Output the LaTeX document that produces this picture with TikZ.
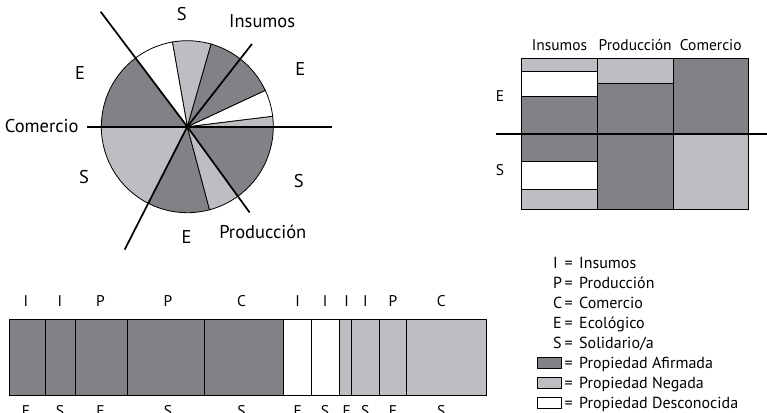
\documentclass[tikz,border=0pt]{standalone}
\usepackage{fontspec}
\setmainfont{PT Sans}
\begin{document}
\begin{tikzpicture}[x=1pt,y=1pt]
    %colores
    \definecolor{oscuro}{RGB}{128,130,134}
    \definecolor{claro}{RGB}{188,190,193}
    \tikzset{
        borde/.style={draw=black,line width=0.8pt},
        eje/.style={line width=1.7pt},
        etiq/.style={anchor=base,inner sep=0pt,font=\fontsize{18.5}{22}\selectfont},
        chica/.style={anchor=base,inner sep=0pt,font=\fontsize{15.5}{18}\selectfont},
        leyenda/.style={anchor=base west,inner sep=0pt,font=\fontsize{16}{19}\selectfont}
    }
    \useasboundingbox (0,0) rectangle (767,412);

    % Pastel, rebanadas
    \coordinate (c) at (187.3,285.3);
    \foreach \a/\b/\col in {0/7/claro, 7/25/white, 25/52/oscuro, 52/74/oscuro, 74/100/claro,
        100/127/white, 127/180/oscuro, 180/243/claro, 243/285/oscuro, 285/306/claro, 306/360/oscuro}
    \filldraw[fill=\col,borde] (c) -- ++(\a:86) arc (\a:\b:86) -- cycle;

    % Ejes del pastel
    \foreach \ang/\len/\nom in {0/145/ejeA, 52/105/ejeI, 127/144/ejeB, 180/100.6/ejeC, 243/138/ejeD, 306/106/ejeP}
    \coordinate (\nom) at ([shift={(\ang:\len)}]c);
    \foreach \nom in {ejeA,ejeI,ejeB,ejeC,ejeD,ejeP}
    \draw[eje] (c) -- (\nom);

    % Etiquetas del pastel
    \node[etiq] (sArr) at (181.7,391.3) {S};
    \node[etiq] (insumos) at (262.2,384.7) {Insumos};
    \node[etiq] (eDer) at (300.3,336) {E};
    \node[etiq] (eIzq) at (80,332.7) {E};
    \node[etiq] (comercio) at (41.7,279.3) {Comercio};
    \node[etiq] (sIzq) at (84,228) {S};
    \node[etiq] (sDer) at (298.8,224.7) {S};
    \node[etiq] (eAba) at (186.7,168) {E};
    \node[etiq] (produccion) at (262.8,173.7) {Producción};

    % Tabla arriba a la derecha
    \foreach \ya/\yb/\col in {340.3/353.7/claro, 315.3/340.3/white, 278.7/315.3/oscuro,
        251/278.7/oscuro, 222.7/251/white, 203/222.7/claro}
    \filldraw[fill=\col,borde] (521.7,\ya) rectangle (597.3,\yb);
    \foreach \ya/\yb/\col in {328.7/353.7/claro, 278.7/328.7/oscuro, 203/278.7/oscuro}
    \filldraw[fill=\col,borde] (597.3,\ya) rectangle (673,\yb);
    \foreach \ya/\yb/\col in {278.7/353.7/oscuro, 203/278.7/claro}
    \filldraw[fill=\col,borde] (673,\ya) rectangle (748.7,\yb);
    \coordinate (tIzq) at (496,278.3);
    \coordinate (tDer) at (767,278.3);
    \draw[eje] (tIzq) -- (tDer);
    \node[chica] (tInsumos) at (559.5,361.3) {Insumos};
    \node[chica] (tProduccion) at (635.2,361.3) {Producción};
    \node[chica] (tComercio) at (710.8,361.3) {Comercio};
    \node[chica] (tE) at (500,310.3) {E};
    \node[chica] (tS) at (500,236.3) {S};

    % Barra de abajo
    \foreach \xa/\xb/\xt/\col/\arr/\ab [count=\i] in {9.3/45/26/oscuro/I/E, 45/75/60/oscuro/I/S,
        75/127.7/100.5/oscuro/P/E, 127.7/204/168/oscuro/P/S, 204/283.3/241.5/oscuro/C/S,
        283.3/311.7/297.7/white/I/E, 311.7/339/325/white/I/S, 339/351.7/346.7/claro/I/E,
        351.7/379.3/365.3/claro/I/S, 379.3/406/393/claro/P/E, 406/486.7/441.2/claro/C/S}
    {
        \filldraw[fill=\col,borde] (\xa,17) rectangle (\xb,93);
        \node[chica] (arr\i) at (\xt,105.3) {\arr};
        \node[chica] (ab\i) at (\xt,-4.7) {\ab};
    }

    % Leyenda
    \foreach \letra/\texto [count=\k from 0] in {I/Insumos, P/Producción, C/Comercio,
        E/Ecológico, S/{Solidario/a}}
    {
        \node[leyenda] (letra\k) at (553,143.3-19.9*\k) {\letra};
        \node[leyenda] (igual\k) at (564.5,143.3-19.9*\k) {=};
        \node[leyenda] (texto\k) at (579,143.3-19.9*\k) {\texto};
    }
    \foreach \col/\texto [count=\k from 5] in {oscuro/Propiedad Afirmada, claro/Propiedad Negada,
        white/Propiedad Desconocida}
    {
        \filldraw[fill=\col,draw=black,line width=1pt] (537,143.3-19.9*\k) rectangle (561,154.3-19.9*\k);
        \node[leyenda] (igual\k) at (564.5,143.3-19.9*\k) {=};
        \node[leyenda] (texto\k) at (579,143.3-19.9*\k) {\texto};
    }
\end{tikzpicture}
\end{document}
